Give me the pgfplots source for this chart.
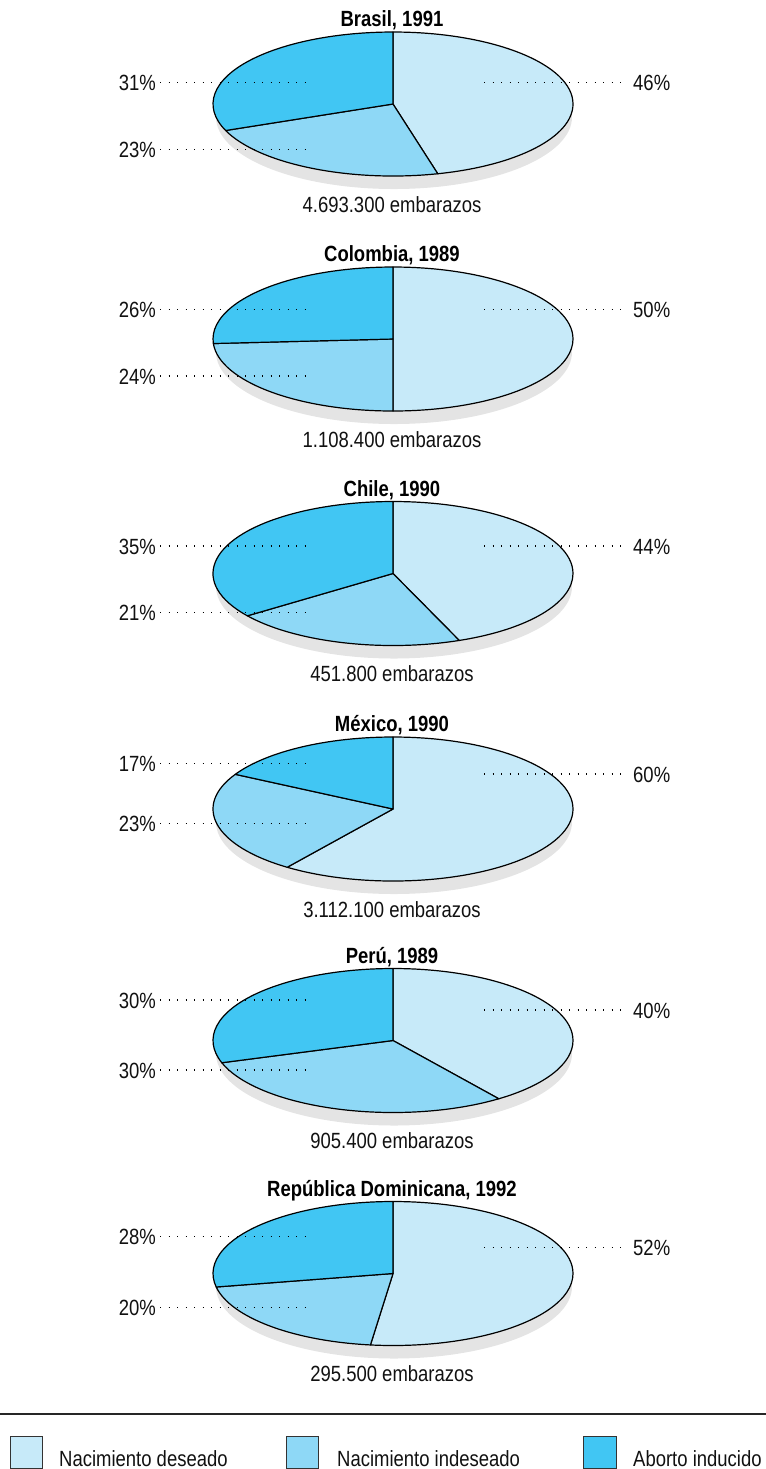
\documentclass[border=0pt]{standalone}
\usepackage{fontspec}
\setmainfont{Liberation Sans}[FakeStretch=0.84]
\usepackage{pgfplots}
\pgfplotsset{compat=1.18}

\definecolor{deseado}{HTML}{C7EAF9}
\definecolor{indeseado}{HTML}{8ED8F6}
\definecolor{aborto}{HTML}{41C6F3}
\definecolor{sombra}{HTML}{E4E4E4}
\definecolor{texto}{HTML}{111111}

\newcommand{\lbl}{\fontsize{22bp}{26bp}\selectfont}

\tikzset{
  cuna/.style={draw=black, line width=1.2bp, line join=round},
  puntos/.style={draw=black, line width=1.4bp, dash pattern=on 1.4bp off 7.1bp},
}

% One pie: #1 centre y, #2 deseado, #3 indeseado, #4 aborto (percent),
% #5/#6 y of the left labels (top/bottom), #7 y of the right label,
% #8 title, #9 number of pregnancies
\newcommand{\torta}[9]{%
  \fill[sombra] (axis cs:394,{#1+13}) ellipse [x radius=178bp, y radius=72bp];
  \filldraw[cuna, fill=deseado] (axis cs:393,#1) -- ++(90:180bp and 72bp)
    arc[start angle=90, end angle={90-3.6*#2}, x radius=180bp, y radius=72bp] -- cycle;
  \filldraw[cuna, fill=indeseado] (axis cs:393,#1) -- ++({90-3.6*#2}:180bp and 72bp)
    arc[start angle={90-3.6*#2}, end angle={90-3.6*(#2+#3)}, x radius=180bp, y radius=72bp] -- cycle;
  \filldraw[cuna, fill=aborto] (axis cs:393,#1) -- ++({90-3.6*(#2+#3)}:180bp and 72bp)
    arc[start angle={90-3.6*(#2+#3)}, end angle=-270, x radius=180bp, y radius=72bp] -- cycle;
  \draw[puntos] (axis cs:160,#5) -- (axis cs:306,#5);
  \draw[puntos] (axis cs:160,#6) -- (axis cs:306,#6);
  \draw[puntos] (axis cs:484,#7) -- (axis cs:626,#7);
  \node[anchor=base east, font=\lbl, text=texto, inner sep=0pt] at (axis cs:156,{#5+8}) {#4\%};
  \node[anchor=base east, font=\lbl, text=texto, inner sep=0pt] at (axis cs:156,{#6+8}) {#3\%};
  \node[anchor=base west, font=\lbl, text=texto, inner sep=0pt] at (axis cs:633,{#7+8}) {#2\%};
  \node[anchor=base, font=\lbl\bfseries, text=black, inner sep=0pt] at (axis cs:392,{#1-77.5}) {#8};
  \node[anchor=base, font=\lbl, text=texto, inner sep=0pt] at (axis cs:392,{#1+108}) {#9 embarazos};
}

\begin{document}
\begin{tikzpicture}
\begin{axis}[
  width=766bp, height=1469bp, scale only axis,
  xmin=0, xmax=766, ymin=0, ymax=1469, y dir=reverse,
  hide axis, clip=false,
]
%       centre  des. indes. abort.  left-top left-bottom right
\torta{104}   {46}{23}{31}{82.7}{149.3}{82.7}{Brasil, 1991}{4.693.300}
\torta{339}   {50}{24}{26}{309.3}{376}{309.3}{Colombia, 1989}{1.108.400}
\torta{573.5} {44}{21}{35}{546}{612.7}{546}{Chile, 1990}{451.800}
\torta{809}   {60}{23}{17}{763.3}{823.3}{774}{México, 1990}{3.112.100}
\torta{1040.5}{40}{30}{30}{1000}{1070}{1010}{Perú, 1989}{905.400}
\torta{1273.5}{52}{20}{28}{1236.7}{1307.3}{1247.7}{República Dominicana, 1992}{295.500}

% legend
\draw[line width=1.5bp, black!85] (axis cs:0,1414) -- (axis cs:766,1414);
\filldraw[fill=deseado, draw=black!80, line width=1bp] (axis cs:10,1436) rectangle (axis cs:42,1468);
\filldraw[fill=indeseado, draw=black!80, line width=1bp] (axis cs:286,1436) rectangle (axis cs:318,1468);
\filldraw[fill=aborto, draw=black!80, line width=1bp] (axis cs:583,1436) rectangle (axis cs:616,1468);
\node[anchor=base west, font=\lbl, text=texto, inner sep=0pt] at (axis cs:59,1466) {Nacimiento deseado};
\node[anchor=base west, font=\lbl, text=texto, inner sep=0pt] at (axis cs:337,1466) {Nacimiento indeseado};
\node[anchor=base west, font=\lbl, text=texto, inner sep=0pt] at (axis cs:633,1466) {Aborto inducido};
\end{axis}
\pgfresetboundingbox
\useasboundingbox (0,0) rectangle (766bp,1469bp);
\end{tikzpicture}
\end{document}
